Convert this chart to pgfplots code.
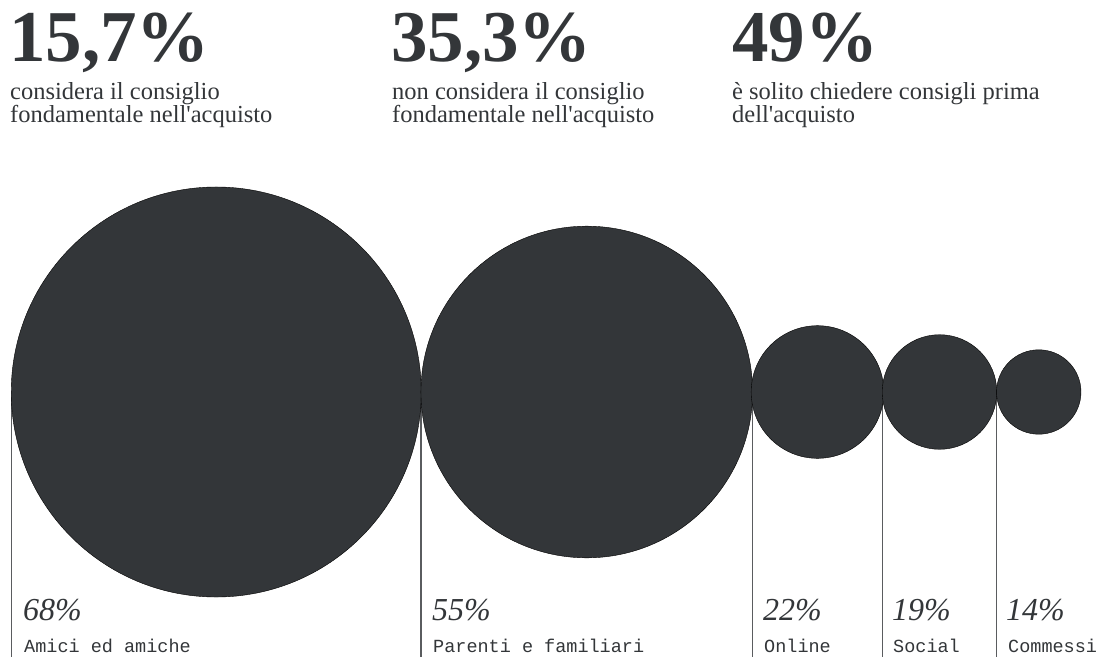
\documentclass[border=0pt]{standalone}
\usepackage{fontspec}
\setmainfont{Liberation Serif}
\setmonofont{Liberation Mono}
\usepackage{pgfplots}
\usepackage{pgfplotstable}
\pgfplotsset{compat=1.18}
\definecolor{dark}{RGB}{51,54,57}
\definecolor{linegray}{RGB}{90,92,95}
\pgfplotstableread{
x y v
216.25 392 68
586.75 392 55
817.5 392 22
939.5 392 19
1038.75 392 14
}\circles
\newcommand{\ap}{\textquotesingle}
\begin{document}
\begin{tikzpicture}
\useasboundingbox (0,0) rectangle (1101bp,657bp);
\clip (0,0) rectangle (1101bp,657bp);
\begin{axis}[
  at={(0,0)}, anchor=south west,
  scale only axis, width=1101bp, height=657bp,
  xmin=0, xmax=1101, ymin=0, ymax=657, y dir=reverse,
  axis lines=none, clip=false,
]
% vertical guide lines
\addplot[linegray, line width=1.1bp] coordinates {(11.5,392) (11.5,660)};
\addplot[linegray, line width=1.1bp] coordinates {(421,392) (421,660)};
\addplot[linegray, line width=1.1bp] coordinates {(752.5,392) (752.5,660)};
\addplot[linegray, line width=1.1bp] coordinates {(882.5,392) (882.5,660)};
\addplot[linegray, line width=1.1bp] coordinates {(996.5,392) (996.5,660)};
% circles (diameter proportional to value)
\addplot[scatter, only marks, mark=*,
  scatter/use mapped color={draw=none, fill=dark},
  visualization depends on={\thisrow{v}*3.015 \as \rad},
  scatter/@pre marker code/.append style={/tikz/mark size=\rad bp}]
  table[x=x, y=y] {\circles};
% headline numbers
\node[anchor=base west, inner sep=0, text=dark] at (axis cs:9,62) {\fontsize{73bp}{73bp}\selectfont\bfseries 15,7\%};
\node[anchor=base west, inner sep=0, text=dark] at (axis cs:391,62) {\fontsize{73bp}{73bp}\selectfont\bfseries 35,3\%};
\node[anchor=base west, inner sep=0, text=dark] at (axis cs:732,62) {\fontsize{73bp}{73bp}\selectfont\bfseries 49\%};
% subtitles
\node[anchor=base west, inner sep=0, text=dark] at (axis cs:10,99) {\fontsize{24.5bp}{24bp}\selectfont considera il consiglio};
\node[anchor=base west, inner sep=0, text=dark] at (axis cs:10,122) {\fontsize{24.5bp}{24bp}\selectfont fondamentale nell\ap acquisto};
\node[anchor=base west, inner sep=0, text=dark] at (axis cs:392,99) {\fontsize{24.5bp}{24bp}\selectfont non considera il consiglio};
\node[anchor=base west, inner sep=0, text=dark] at (axis cs:392,122) {\fontsize{24.5bp}{24bp}\selectfont fondamentale nell\ap acquisto};
\node[anchor=base west, inner sep=0, text=dark] at (axis cs:732,99) {\fontsize{24.5bp}{24bp}\selectfont è solito chiedere consigli prima};
\node[anchor=base west, inner sep=0, text=dark] at (axis cs:732,122) {\fontsize{24.5bp}{24bp}\selectfont dell\ap acquisto};
% bottom labels
\node[anchor=base west, inner sep=0, text=dark] at (axis cs:23,620) {\fontsize{32bp}{32bp}\selectfont\itshape 68\%};
\node[anchor=base west, inner sep=0, text=dark] at (axis cs:432,620) {\fontsize{32bp}{32bp}\selectfont\itshape 55\%};
\node[anchor=base west, inner sep=0, text=dark] at (axis cs:763,620) {\fontsize{32bp}{32bp}\selectfont\itshape 22\%};
\node[anchor=base west, inner sep=0, text=dark] at (axis cs:892,620) {\fontsize{32bp}{32bp}\selectfont\itshape 19\%};
\node[anchor=base west, inner sep=0, text=dark] at (axis cs:1006,620) {\fontsize{32bp}{32bp}\selectfont\itshape 14\%};
\node[anchor=base west, inner sep=0, text=dark] at (axis cs:24,652) {\fontsize{18.5bp}{18.5bp}\selectfont\ttfamily Amici ed amiche};
\node[anchor=base west, inner sep=0, text=dark] at (axis cs:433,652) {\fontsize{18.5bp}{18.5bp}\selectfont\ttfamily Parenti e familiari};
\node[anchor=base west, inner sep=0, text=dark] at (axis cs:764,652) {\fontsize{18.5bp}{18.5bp}\selectfont\ttfamily Online};
\node[anchor=base west, inner sep=0, text=dark] at (axis cs:893,652) {\fontsize{18.5bp}{18.5bp}\selectfont\ttfamily Social};
\node[anchor=base west, inner sep=0, text=dark] at (axis cs:1008,652) {\fontsize{18.5bp}{18.5bp}\selectfont\ttfamily Commessi};
\end{axis}
\end{tikzpicture}
\end{document}
